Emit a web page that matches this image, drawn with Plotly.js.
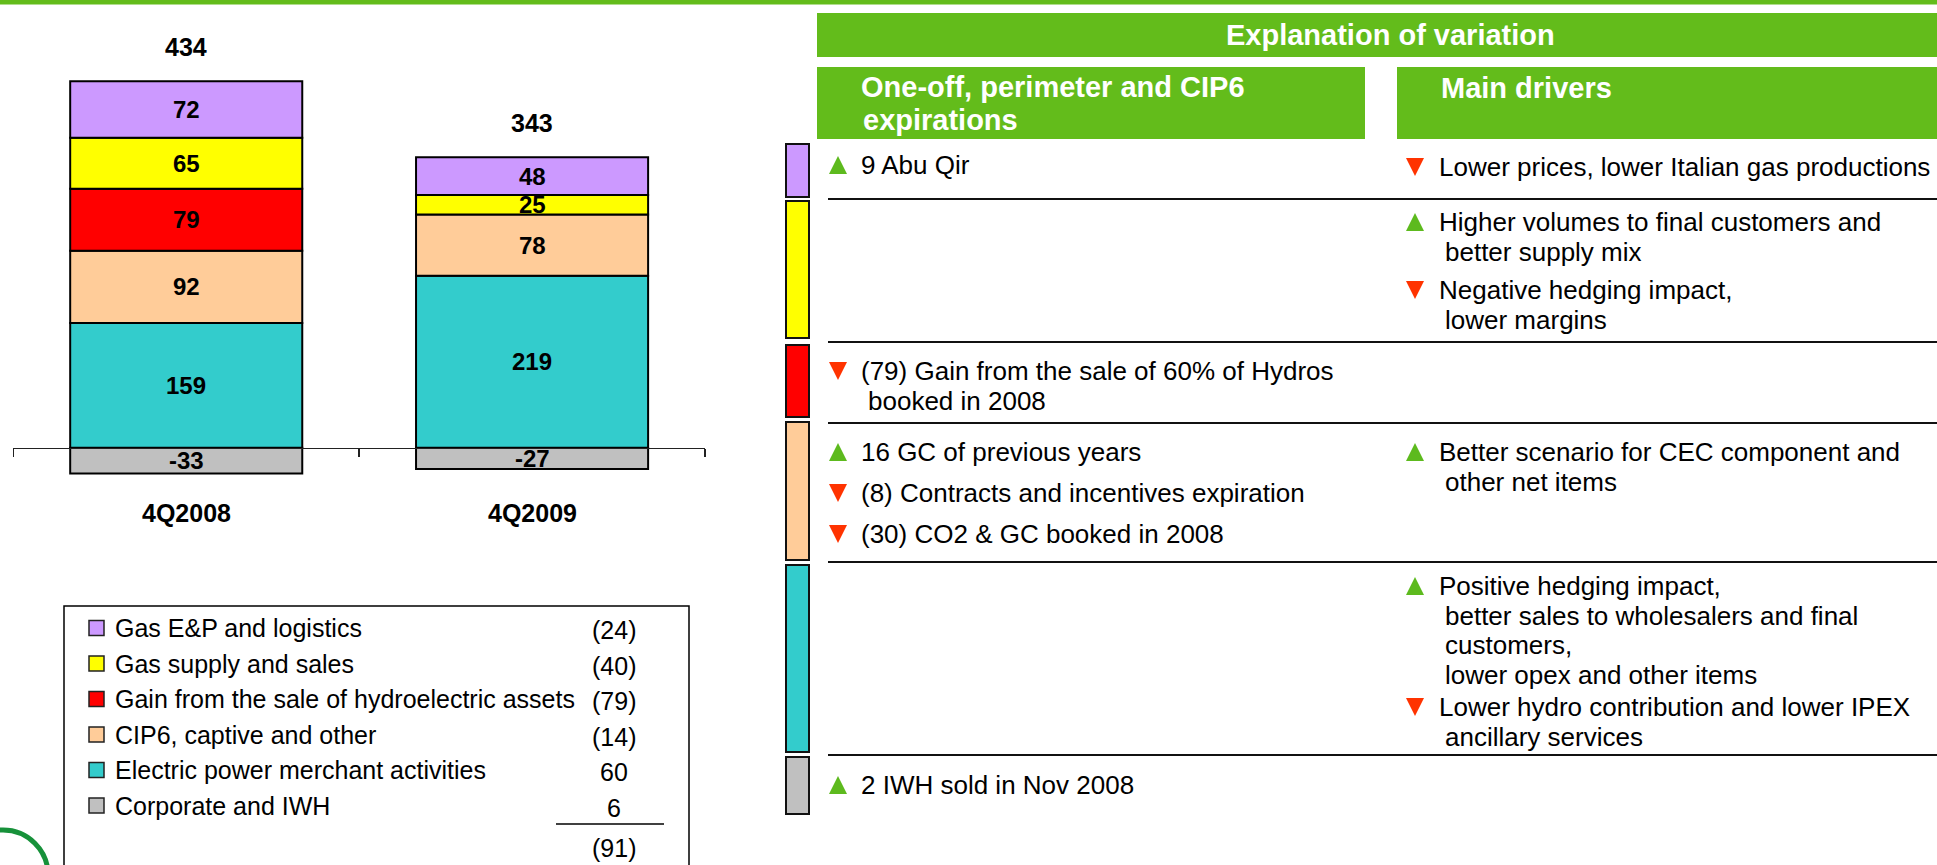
<!DOCTYPE html>
<html>
<head>
<meta charset="utf-8">
<script src="https://cdn.plot.ly/plotly-3.0.1.min.js"></script>
<style>
  html, body { margin: 0; padding: 0; background: #fff; }
  #chart { width: 1937px; height: 865px; }
</style>
</head>
<body>
<div id="chart"></div>
<script>
const W = 1937, H = 865;

// data (EBITDA by business, 4Q2008 vs 4Q2009)
const quarters = ["4Q2008", "4Q2009"];
const gasEP = [72, 48];
const gasSupply = [65, 25];
const hydroGain = [79, null];
const cip6 = [92, 78];
const merchant = [159, 219];
const corporate = [-33, -27];

const segmentNames = [
  "Gas E&P and logistics",
  "Gas supply and sales",
  "Gain from the sale of hydroelectric assets",
  "CIP6, captive and other",
  "Electric power merchant activities",
  "Corporate and IWH"
];

const palette = {
  purple: "#CC99FF",
  yellow: "#FFFF00",
  red: "#FF0000",
  peach: "#FFCC99",
  teal: "#33CCCC",
  grey: "#C0C0C0",
  green: "#63BC1B",
  up: "#5DBA1E",
  down: "#FF3300",
  logo: "#17913A"
};

const FONT = "Liberation Sans, Arial, sans-serif";

// top-to-bottom, same order as the legend
const segments = [
  { name: segmentNames[0], values: gasEP, color: palette.purple },
  { name: segmentNames[1], values: gasSupply, color: palette.yellow },
  { name: segmentNames[2], values: hydroGain, color: palette.red },
  { name: segmentNames[3], values: cip6, color: palette.peach },
  { name: segmentNames[4], values: merchant, color: palette.teal },
  { name: segmentNames[5], values: corporate, color: palette.grey }
];

// explanation table text
const notes = [
  { col: 0, y: 165, up: true,  lines: ["9 Abu Qir"] },
  { col: 1, y: 167, up: false, lines: ["Lower prices, lower Italian gas productions"] },
  { col: 1, y: 222, up: true,  lines: ["Higher volumes to final customers and", "better supply mix"] },
  { col: 1, y: 290, up: false, lines: ["Negative hedging impact,", "lower margins"] },
  { col: 0, y: 371, up: false, lines: ["(79) Gain from the sale of 60% of Hydros", "booked in 2008"] },
  { col: 0, y: 452, up: true,  lines: ["16 GC of previous years"] },
  { col: 0, y: 493, up: false, lines: ["(8) Contracts and incentives expiration"] },
  { col: 0, y: 534, up: false, lines: ["(30) CO2 & GC booked in 2008"] },
  { col: 1, y: 452, up: true,  lines: ["Better scenario for CEC component and", "other net items"] },
  { col: 1, y: 586, up: true,  lines: ["Positive hedging impact,", "better sales to wholesalers and final", "customers,", "lower opex and other items"] },
  { col: 1, y: 707, up: false, lines: ["Lower hydro contribution and lower IPEX", "ancillary services"] },
  { col: 0, y: 785, up: true,  lines: ["2 IWH sold in Nov 2008"] }
];
const rowBands = [[144, 197], [201, 338], [345, 417], [422, 560], [565, 752], [757, 814]];
const separatorsY = [199, 342, 423, 562, 755];
const LINE_STEP = 29.5;

const fx = (x) => x / W;
const fy = (y) => 1 - y / H;
const esc = (s) => s.replace(/&/g, "&amp;");

function paperText(x, y, text, opts = {}) {
  return {
    xref: "paper", yref: "paper", x: fx(x), y: fy(y),
    text: esc(text), showarrow: false,
    xanchor: opts.anchor || "left", yanchor: "middle",
    font: { family: FONT, size: opts.size || 26, color: opts.color || "#000", weight: opts.weight || "normal" }
  };
}

function rect(x0, y0, x1, y1, fill, line) {
  return {
    type: "rect", xref: "paper", yref: "paper", layer: "above",
    x0: fx(x0), x1: fx(x1), y0: fy(y1), y1: fy(y0),
    fillcolor: fill || "rgba(0,0,0,0)",
    line: line || { width: 0 }
  };
}

function triangle(cx, cy, up) {
  const s = 9;
  const p = up
    ? [[cx - s, cy + s], [cx + s, cy + s], [cx, cy - s]]
    : [[cx - s, cy - s], [cx + s, cy - s], [cx, cy + s]];
  return {
    type: "path", xref: "paper", yref: "paper", layer: "above",
    path: "M" + p.map(([x, y]) => fx(x) + "," + fy(y)).join(" L") + " Z",
    fillcolor: up ? palette.up : palette.down,
    line: { width: 0 }
  };
}

function buildBars() {
  // stacking goes bottom-up, so reverse the legend order
  return segments.slice().reverse().map((seg) => ({
    type: "bar",
    x: quarters,
    y: seg.values,
    name: seg.name,
    marker: { color: seg.color, line: { color: "#000", width: 2 } },
    hoverinfo: "skip",
    showlegend: false
  }));
}

function buildBarLabels() {
  const ann = [];
  const bold = { family: FONT, size: 24, color: "#000", weight: "bold" };
  const stack = segments.slice(0, 5).reverse();
  quarters.forEach((q, i) => {
    let base = 0;
    stack.forEach((seg) => {
      const v = seg.values[i];
      if (v == null) return;
      ann.push({ x: q, y: base + v / 2, xref: "x", yref: "y", text: String(v), showarrow: false, font: bold });
      base += v;
    });
    const neg = corporate[i];
    ann.push({ x: q, y: neg / 2, xref: "x", yref: "y", text: String(neg), showarrow: false, font: bold });
    ann.push({ x: q, y: base, xref: "x", yref: "y", yshift: 34, text: String(base + neg), showarrow: false,
      font: { ...bold, size: 25 } });
    ann.push({ x: q, xref: "x", yref: "paper", y: fy(513), text: q, showarrow: false,
      font: { ...bold, size: 25 } });
  });
  return ann;
}

function fmtDelta(d) {
  return d < 0 ? "(" + (-d) + ")" : String(d);
}

function buildLegend(shapes, ann) {
  shapes.push(rect(64, 606, 689, 900, null, { color: "#000", width: 1.5 }));
  let totalDelta = 0;
  segments.forEach((seg, k) => {
    const y = 628 + k * 35.5;
    const d = (seg.values[1] || 0) - (seg.values[0] || 0);
    totalDelta += d;
    shapes.push(rect(89, y - 7.5, 104, y + 7.5, seg.color, { color: "#222", width: 1.5 }));
    ann.push(paperText(113, y, seg.name, { size: 25 }));
    ann.push(paperText(614, y + 2, fmtDelta(d), { size: 25, anchor: "center" }));
  });
  shapes.push({ type: "line", xref: "paper", yref: "paper", x0: fx(556), x1: fx(664), y0: fy(824), y1: fy(824),
    line: { color: "#000", width: 1.5 } });
  ann.push(paperText(614, 848, fmtDelta(totalDelta), { size: 25, anchor: "center" }));
}

function buildTable(shapes, ann) {
  shapes.push(rect(0, 0, W + 5, 4.5, palette.green));
  shapes.push(rect(817, 13, W + 5, 57, palette.green));
  shapes.push(rect(817, 67, 1365, 139, palette.green));
  shapes.push(rect(1397, 67, W + 5, 139, palette.green));
  const head = { size: 29, color: "#fff", weight: "bold" };
  ann.push(paperText(1390, 35, "Explanation of variation", { ...head, anchor: "center" }));
  ann.push(paperText(859, 87, "One-off, perimeter and CIP6", head));
  ann.push(paperText(861, 120, "expirations", head));
  ann.push(paperText(1439, 88, "Main drivers", head));

  rowBands.forEach(([y0, y1], k) => {
    shapes.push(rect(786, y0, 809, y1, segments[k].color, { color: "#111", width: 2 }));
  });
  separatorsY.forEach((y) => {
    shapes.push({ type: "line", xref: "paper", yref: "paper", x0: fx(828), x1: fx(W + 5), y0: fy(y), y1: fy(y),
      line: { color: "#111", width: 2 } });
  });

  const triX = [838, 1415], textX = [859, 1437], contX = [866, 1443];
  notes.forEach((n) => {
    shapes.push(triangle(triX[n.col], n.y, n.up));
    n.lines.forEach((line, j) => {
      ann.push(paperText(j === 0 ? textX[n.col] : contX[n.col], n.y + j * LINE_STEP, line, { size: 26 }));
    });
  });

  // logo ring, cut by the page corner
  shapes.push({ type: "circle", xref: "paper", yref: "paper", x0: fx(-42), x1: fx(48), y0: fy(920), y1: fy(830),
    line: { color: palette.logo, width: 5 }, fillcolor: "rgba(0,0,0,0)" });
}

function draw() {
  const shapes = [];
  const annotations = buildBarLabels();
  buildLegend(shapes, annotations);
  buildTable(shapes, annotations);

  const layout = {
    width: W, height: H,
    margin: { t: 0, r: 0, b: 0, l: 0 },
    paper_bgcolor: "#fff",
    plot_bgcolor: "rgba(0,0,0,0)",
    barmode: "relative",
    bargap: 0.329,
    showlegend: false,
    xaxis: {
      type: "category",
      domain: [fx(13.3), fx(705)],
      range: [-0.5, 1.5],
      anchor: "free",
      position: fy(447.7),
      showline: true, linecolor: "#222", linewidth: 1.5,
      ticks: "outside", tickson: "boundaries", ticklen: 8, tickwidth: 1.5, tickcolor: "#222",
      showticklabels: false, showgrid: false, zeroline: false, fixedrange: true
    },
    yaxis: {
      domain: [fy(480), fy(40)],
      range: [-41.15, 519.4],
      visible: false, fixedrange: true
    },
    shapes: shapes,
    annotations: annotations
  };

  Plotly.newPlot("chart", buildBars(), layout, { displayModeBar: false, staticPlot: true });
}

document.addEventListener("DOMContentLoaded", draw);
</script>
</body>
</html>
